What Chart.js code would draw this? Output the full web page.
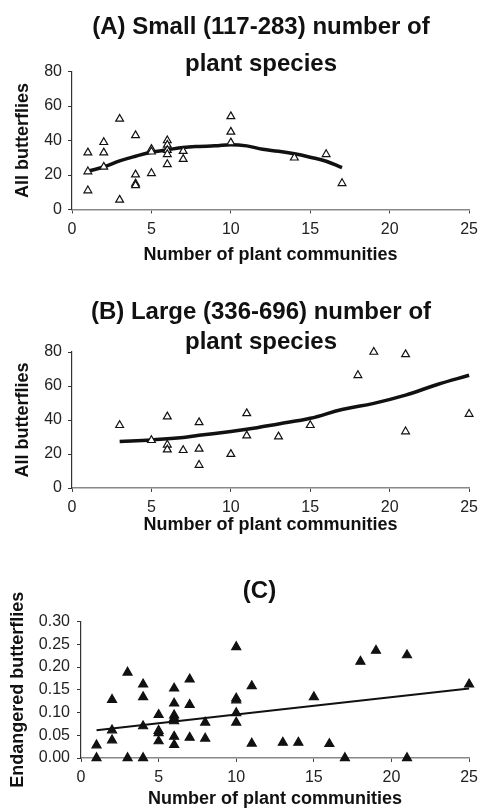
<!DOCTYPE html>
<html lang="en">
<head>
<meta charset="UTF-8">
<title>Butterflies and plant communities</title>
<script src="https://cdn.jsdelivr.net/npm/chart.js"></script>
<style>
  body { margin: 0; background: #fff; overflow: hidden; }
  canvas { position: absolute; left: 0; }
</style>
</head>
<body>
<canvas id="chartA" width="484" height="270" style="top:0"></canvas>
<canvas id="chartB" width="484" height="270" style="top:270px"></canvas>
<canvas id="chartC" width="484" height="272" style="top:540px"></canvas>

<script>
  // shared axis ticks
  const communityTicks = [0, 5, 10, 15, 20, 25];
  const allTicks = [0, 20, 40, 60, 80];
  const endangeredTicks = [0, 0.05, 0.10, 0.15, 0.20, 0.25, 0.30];

  // (A) small number of plant species
  const smallX = [1, 1, 1, 2, 2, 2, 3, 3, 4, 4, 4, 4, 5, 5, 5, 6, 6, 6, 6, 6, 7, 7, 10, 10, 10, 14, 16, 17];
  const smallY = [33, 22, 11, 39, 33, 24.7, 52.5, 5.6, 43, 20.2, 15, 14, 35, 33.5, 21, 40, 37.5, 34.4, 32, 26.2, 33.8, 29.2, 54, 45, 38.8, 30, 32, 15.2];
  const smallFitX = [1, 2, 3, 4, 5, 6, 7, 8, 9, 10, 11, 12, 13, 14, 15, 16, 17];
  const smallFitY = [22.2, 24.7, 28.2, 30.9, 33.2, 34.6, 36, 36.6, 36.9, 37.6, 36.9, 34.9, 33.8, 32.3, 30.3, 28, 24.3];

  // (B) large number of plant species
  const largeX = [3, 5, 6, 6, 6, 7, 8, 8, 8, 10, 11, 11, 13, 15, 18, 19, 21, 21, 25];
  const largeY = [36.9, 28.1, 42, 25.4, 22.6, 22.2, 38.6, 23, 13.5, 19.9, 43.9, 30.8, 30.2, 36.9, 66.3, 80, 78.6, 33.2, 43.5];
  const largeFitX = [3, 5, 7, 8, 10, 11, 13, 15, 17, 19, 21, 23, 25];
  const largeFitY = [27.3, 28.3, 29.7, 31, 33.2, 34.5, 37.7, 41, 46.2, 49.8, 54.6, 60.9, 66.3];

  // (C) endangered butterflies
  const endX = [1, 1, 2, 2, 2, 3, 3, 4, 4, 4, 4, 5, 5, 5, 5, 6, 6, 6, 6, 6, 6, 6, 7, 7, 7, 8, 8,
                10, 10, 10, 10, 10, 11, 11, 13, 14, 15, 16, 17, 18, 19, 21, 21, 25];
  const endY = [0.028, 0, 0.128, 0.061, 0.039, 0.188, 0, 0.162, 0.134, 0.070, 0, 0.095, 0.060, 0.055, 0.037,
                0.153, 0.120, 0.094, 0.088, 0.081, 0.047, 0.029, 0.173, 0.117, 0.045, 0.078, 0.043,
                0.244, 0.131, 0.127, 0.099, 0.078, 0.158, 0.032, 0.034, 0.034, 0.134, 0.031, 0, 0.212, 0.236, 0.226, 0, 0.162];
  const endFitX = [1, 25];
  const endFitY = [0.061, 0.153];

  const FONT = '"Liberation Sans", Arial, Helvetica, sans-serif';

  function pairs(xs, ys) {
    return xs.map((x, i) => ({ x: x, y: ys[i] }));
  }

  function makePanel(id, p) {
    const canvas = document.getElementById(id);
    const h = canvas.height;
    return new Chart(canvas.getContext('2d'), {
      type: 'scatter',
      data: {
        datasets: [
          {
            data: pairs(p.x, p.y),
            pointStyle: 'triangle',
            pointRadius: p.markerRadius,
            pointBorderWidth: 1.2,
            pointBorderColor: '#111',
            pointBackgroundColor: p.filled ? '#111' : '#fff',
            clip: false
          },
          {
            data: pairs(p.fitX, p.fitY),
            showLine: true,
            borderColor: '#111',
            borderWidth: p.lineWidth,
            tension: 0.4,
            pointRadius: 0,
            clip: false
          }
        ]
      },
      options: {
        responsive: false,
        animation: false,
        layout: { padding: { left: 38, right: p.padRight, top: 0, bottom: 0 } },
        plugins: {
          legend: { display: false },
          tooltip: { enabled: false },
          title: {
            display: true,
            text: p.title,
            color: '#111',
            font: { family: FONT, size: 24, weight: 'bold', lineHeight: p.titleLH },
            padding: p.titlePad
          }
        },
        scales: {
          x: {
            min: 0,
            max: 25,
            afterBuildTicks: s => { s.ticks = communityTicks.map(v => ({ value: v })); },
            afterFit: s => { s.height = h - p.axisY; },
            border: { display: true, color: '#888', width: 1.5 },
            grid: { drawOnChartArea: false, drawTicks: true, tickLength: 4, color: '#444' },
            ticks: { color: '#222', padding: 6, font: { family: FONT, size: 16 }, maxRotation: 0, autoSkip: false },
            title: {
              display: true,
              text: 'Number of plant communities',
              color: '#111',
              font: { family: FONT, size: 18, weight: 'bold' },
              padding: { top: 0, bottom: p.xTitlePad }
            }
          },
          y: {
            min: p.yTicks[0],
            max: p.yTicks[p.yTicks.length - 1],
            afterBuildTicks: s => { s.ticks = p.yTicks.map(v => ({ value: v })); },
            afterFit: s => { s.width = p.axisX - 38; },
            border: { display: true, color: '#333', width: 1.2 },
            grid: { drawOnChartArea: false, drawTicks: true, tickLength: 4, color: '#333' },
            ticks: {
              color: '#222',
              padding: p.yTickPad,
              font: { family: FONT, size: 16 },
              autoSkip: false,
              callback: p.yFormat
            },
            title: {
              display: true,
              text: p.yTitle,
              color: '#111',
              font: { family: FONT, size: 18, weight: 'bold' },
              padding: { top: p.yTitlePad, bottom: 0 }
            }
          }
        }
      }
    });
  }

  makePanel('chartA', {
    title: ['(A) Small (117-283) number of', 'plant species'],
    titleLH: 1.53,
    titlePad: { top: 9.1, bottom: -11 },
    x: smallX, y: smallY, fitX: smallFitX, fitY: smallFitY,
    filled: false, markerRadius: 4.5, lineWidth: 3.5,
    yTicks: allTicks, yFormat: v => v, yTitle: 'All butterflies',
    axisX: 72, axisY: 209.5, padRight: 0,
    yTickPad: 6, yTitlePad: -25.8, xTitlePad: 4.2
  });

  makePanel('chartB', {
    title: ['(B) Large (336-696) number of', 'plant species'],
    titleLH: 1.25,
    titlePad: { top: 27.7, bottom: -5.7 },
    x: largeX, y: largeY, fitX: largeFitX, fitY: largeFitY,
    filled: false, markerRadius: 4.5, lineWidth: 3.5,
    yTicks: allTicks, yFormat: v => v, yTitle: 'All butterflies',
    axisX: 72, axisY: 218, padRight: 0,
    yTickPad: 6, yTitlePad: -25.8, xTitlePad: 4.2
  });

  makePanel('chartC', {
    title: '(C)',
    titleLH: 1.2,
    titlePad: { top: 37.3, bottom: 15.4 },
    x: endX, y: endY, fitX: endFitX, fitY: endFitY,
    filled: true, markerRadius: 5.2, lineWidth: 2,
    yTicks: endangeredTicks, yFormat: v => Number(v).toFixed(2), yTitle: 'Endangered butterflies',
    axisX: 81, axisY: 218, padRight: 3,
    yTickPad: 7, yTitlePad: -31, xTitlePad: 2.2
  });
</script>
</body>
</html>
